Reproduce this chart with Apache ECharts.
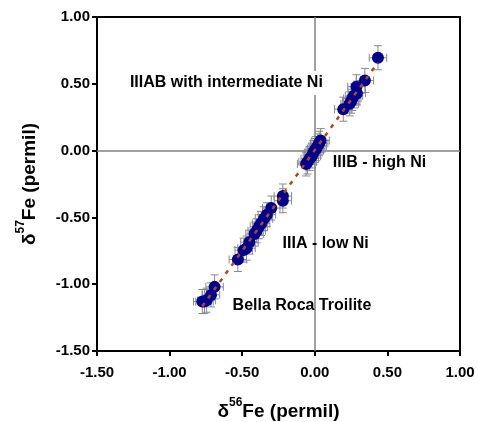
<!DOCTYPE html>
<html>
<head>
<meta charset="utf-8">
<script src="https://cdn.jsdelivr.net/npm/echarts@6/dist/echarts.min.js"></script>
<style>html,body{margin:0;padding:0;background:#fff}#c{width:478px;height:422px}</style>
</head>
<body>
<div id="c"></div>
<script>
// δ56Fe values
var d56 = [0.435, 0.345, 0.287, 0.29, 0.27, 0.258, 0.25, 0.24, 0.196,
  0.04, 0.03, 0.02, 0.01, 0.0, -0.01, -0.02, -0.035, -0.05, -0.06,
  -0.22, -0.22, -0.30, -0.33, -0.35, -0.37, -0.385, -0.40, -0.415, -0.45, -0.47, -0.49, -0.53,
  -0.69, -0.715, -0.745, -0.76, -0.775];
// δ57Fe values
var d57 = [0.695, 0.525, 0.478, 0.43, 0.41, 0.39, 0.37, 0.35, 0.31,
  0.075, 0.055, 0.035, 0.015, 0.0, -0.015, -0.04, -0.06, -0.085, -0.1,
  -0.34, -0.375, -0.43, -0.48, -0.51, -0.545, -0.57, -0.6, -0.625, -0.685, -0.73, -0.745, -0.815,
  -1.02, -1.08, -1.12, -1.13, -1.13];
// 2-sigma errors
var err56 = 0.06;
var err57 = 0.09;
var axisTicks = [-1.5, -1.0, -0.5, 0.0, 0.5, 1.0];
var groupLabels = ['IIIAB with intermediate Ni', 'IIIB - high Ni', 'IIIA - low Ni', 'Bella Roca Troilite'];

var pts = d56.map(function (x, i) { return [x, d57[i]]; });

// least-squares trend line over data range
var n = pts.length, sx = 0, sy = 0, sxx = 0, sxy = 0;
pts.forEach(function (p) { sx += p[0]; sy += p[1]; sxx += p[0] * p[0]; sxy += p[0] * p[1]; });
var slope = (n * sxy - sx * sy) / (n * sxx - sx * sx);
var icpt = (sy - slope * sx) / n;
var xmin = Math.min.apply(null, d56), xmax = Math.max.apply(null, d56);
var trend = [[xmin, slope * xmin + icpt], [xmax, slope * xmax + icpt]];

var chart = echarts.init(document.getElementById('c'));
var font = 'Arial, "Liberation Sans", sans-serif';
var nameRich = {
  d: { fontSize: 19, fontWeight: 'bold', fontFamily: font, color: '#000', lineHeight: 24, verticalAlign: 'bottom' },
  s: { fontSize: 12, fontWeight: 'bold', fontFamily: font, color: '#000', lineHeight: 12, verticalAlign: 'top' }
};
function axisCommon() {
  return {
    type: 'value', min: axisTicks[0], max: axisTicks[axisTicks.length - 1], interval: 0.5,
    splitLine: { show: false },
    axisLine: { show: true, onZero: false, lineStyle: { color: '#000', width: 2 } },
    axisTick: { show: true, inside: false, length: 5, lineStyle: { color: '#000', width: 2 } },
    axisLabel: { color: '#000', fontSize: 15, fontWeight: 'bold', fontFamily: font,
      formatter: function (v) { return v.toFixed(2); } }
  };
}
var xa = axisCommon();
xa.axisLabel.margin = 14;
xa.name = '{d|δ}{s|56}{d|Fe (permil)}';
xa.nameLocation = 'middle';
xa.nameGap = 46;
xa.nameTextStyle = { rich: nameRich };
var ya = axisCommon();
ya.axisLabel.margin = 7;
ya.name = '{d|δ}{s|57}{d|Fe (permil)}';
ya.nameLocation = 'middle';
ya.nameGap = 58;
ya.nameRotate = 90;
ya.nameTextStyle = { rich: nameRich };

var labelStyle = { fontSize: 16, fontWeight: 'bold', fontFamily: font, color: '#000', textBorderWidth: 0, opacity: 1 };
var annotations = [
  { value: [-1.294, 0.506], name: groupLabels[0], bg: true },
  { value: [0.124, -0.093], name: groupLabels[1] },
  { value: [-0.222, -0.697], name: groupLabels[2] },
  { value: [-0.566, -1.163], name: groupLabels[3] }
];

chart.setOption({
  animation: false,
  grid: { left: 97, right: 18, top: 17, bottom: 71, containLabel: false, outerBoundsMode: 'none',
    show: true, borderColor: '#000', borderWidth: 2, backgroundColor: 'transparent' },
  xAxis: xa,
  yAxis: ya,
  series: [
    {
      type: 'custom', z: 2,
      data: pts,
      renderItem: function (params, api) {
        var x = api.value(0), y = api.value(1);
        var l = api.coord([x - err56, y]), r = api.coord([x + err56, y]);
        var t = api.coord([x, y + err57]), b = api.coord([x, y - err57]);
        var c = 4;
        var st = { stroke: '#8a8a8a', lineWidth: 1 };
        return { type: 'group', children: [
          { type: 'line', shape: { x1: l[0], y1: l[1], x2: r[0], y2: r[1] }, style: st },
          { type: 'line', shape: { x1: t[0], y1: t[1], x2: b[0], y2: b[1] }, style: st },
          { type: 'line', shape: { x1: l[0], y1: l[1] - c, x2: l[0], y2: l[1] + c }, style: st },
          { type: 'line', shape: { x1: r[0], y1: r[1] - c, x2: r[0], y2: r[1] + c }, style: st },
          { type: 'line', shape: { x1: t[0] - c, y1: t[1], x2: t[0] + c, y2: t[1] }, style: st },
          { type: 'line', shape: { x1: b[0] - c, y1: b[1], x2: b[0] + c, y2: b[1] }, style: st }
        ] };
      },
      markLine: {
        silent: true, symbol: 'none', label: { show: false }, z: 1,
        lineStyle: { color: '#808080', width: 1.5, type: 'solid' },
        data: [{ xAxis: 0 }, { yAxis: 0 }]
      }
    },
    {
      type: 'scatter', z: 3, data: pts, symbol: 'circle', symbolSize: 12,
      itemStyle: { color: '#000090', opacity: 1 }
    },
    {
      type: 'line', z: 4, data: trend, showSymbol: false, symbol: 'none',
      lineStyle: { color: '#B5470F', width: 2.5, type: [4, 6] }
    },
    {
      type: 'scatter', z: 5, symbolSize: 0, silent: true,
      itemStyle: { opacity: 1, color: '#000' },
      data: annotations.map(function (a) {
        return { value: a.value, name: a.name,
          label: a.bg ? { backgroundColor: '#fff', padding: [4, 3] } : {} };
      }),
      label: Object.assign({ show: true, position: 'right', distance: 0, align: 'left', verticalAlign: 'middle',
        formatter: function (p) { return p.name; } }, labelStyle)
    }
  ]
});
</script>
</body>
</html>
